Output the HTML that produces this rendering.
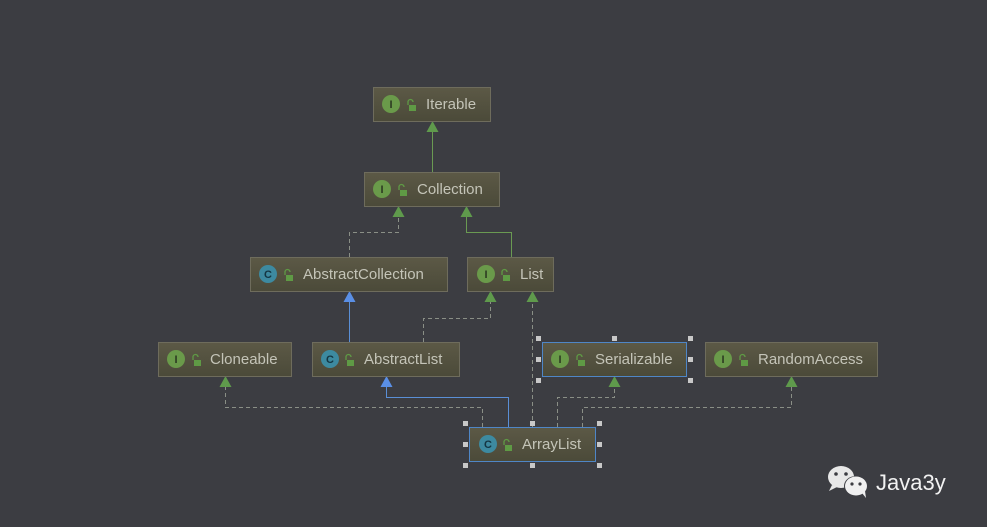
<!DOCTYPE html>
<html><head><meta charset="utf-8"><style>
html,body{margin:0;padding:0;background:#3c3d42;}
svg{display:block}
text{font-family:"Liberation Sans","DejaVu Sans",sans-serif;}
</style></head><body>
<svg width="987" height="527" viewBox="0 0 987 527" xmlns="http://www.w3.org/2000/svg">
<defs>
<linearGradient id="bg" x1="0" y1="0" x2="0" y2="1">
<stop offset="0" stop-color="#5c5946"/><stop offset="1" stop-color="#4b4a39"/>
</linearGradient>
<g id="ii"><circle r="9" fill="#6a9a4a"/><text x="0" y="4" font-size="11" font-weight="bold" fill="#2c3a22" text-anchor="middle">I</text></g>
<g id="ci"><circle r="9" fill="#3d8aa0"/><text x="0" y="4" font-size="11" font-weight="bold" fill="#143642" text-anchor="middle">C</text></g>
<g id="lk"><rect x="-3" y="-1" width="7" height="6" fill="#5f9a45"/><path d="M-4,-1 v-3 a2.5,2.5 0 0 1 5,0" fill="none" stroke="#5f9a45" stroke-width="1.3"/></g>
</defs>
<rect width="987" height="527" fill="#3c3d42"/>

<g fill="none" stroke-width="1">
<path d="M432.5,206 V126" stroke="#6a9a52"/>
<path d="M349.5,257 V232.5 H398.5 V211" stroke="#8a8f86" stroke-dasharray="4,3"/>
<path d="M511.5,257 V232.5 H466.5 V211" stroke="#6a9a52"/>
<path d="M349.5,342 V296" stroke="#5a8fd6"/>
<path d="M423.5,342 V318.5 H490.5 V296" stroke="#8a8f86" stroke-dasharray="4,3"/>
<path d="M532.5,427 V296" stroke="#8a8f86" stroke-dasharray="4,3"/>
<path d="M482.5,427 V407.5 H225.5 V381" stroke="#8a8f86" stroke-dasharray="4,3"/>
<path d="M508.5,427 V397.5 H386.5 V381" stroke="#5a8fd6"/>
<path d="M557.5,427 V397.5 H614.5 V381" stroke="#8a8f86" stroke-dasharray="4,3"/>
<path d="M582.5,427 V407.5 H791.5 V381" stroke="#8a8f86" stroke-dasharray="4,3"/>
</g>
<g fill="#5f9a4c">
<path d="M432.5,121 l-6,11 h12z"/>
<path d="M398.5,206 l-6,11 h12z"/>
<path d="M466.5,206 l-6,11 h12z"/>
<path d="M490.5,291 l-6,11 h12z"/>
<path d="M532.5,291 l-6,11 h12z"/>
<path d="M225.5,376 l-6,11 h12z"/>
<path d="M614.5,376 l-6,11 h12z"/>
<path d="M791.5,376 l-6,11 h12z"/>
</g>
<g fill="#5a8fe6">
<path d="M349.5,291 l-6,11 h12z"/>
<path d="M386.5,376 l-6,11 h12z"/>
</g>

<g stroke="#6e6c5c" stroke-width="1">
<rect x="373.5" y="87.5" width="117" height="34" fill="url(#bg)"/>
<rect x="364.5" y="172.5" width="135" height="34" fill="url(#bg)"/>
<rect x="250.5" y="257.5" width="197" height="34" fill="url(#bg)"/>
<rect x="467.5" y="257.5" width="86" height="34" fill="url(#bg)"/>
<rect x="158.5" y="342.5" width="133" height="34" fill="url(#bg)"/>
<rect x="312.5" y="342.5" width="147" height="34" fill="url(#bg)"/>
<rect x="542.5" y="342.5" width="144" height="34" fill="url(#bg)" stroke="#4f86c6"/>
<rect x="705.5" y="342.5" width="172" height="34" fill="url(#bg)"/>
<rect x="469.5" y="427.5" width="126" height="34" fill="url(#bg)" stroke="#4f86c6"/>
</g>

<g font-size="15" fill="#c4c4b8">
<use href="#ii" x="391" y="104"/><use href="#lk" x="412" y="106"/><text x="426" y="109">Iterable</text>
<use href="#ii" x="382" y="189"/><use href="#lk" x="403" y="191"/><text x="417" y="194">Collection</text>
<use href="#ci" x="268" y="274"/><use href="#lk" x="289" y="276"/><text x="303" y="279">AbstractCollection</text>
<use href="#ii" x="486" y="274"/><use href="#lk" x="506" y="276"/><text x="520" y="279">List</text>
<use href="#ii" x="176" y="359"/><use href="#lk" x="197" y="361"/><text x="210" y="364">Cloneable</text>
<use href="#ci" x="330" y="359"/><use href="#lk" x="350" y="361"/><text x="364" y="364">AbstractList</text>
<use href="#ii" x="560" y="359"/><use href="#lk" x="581" y="361"/><text x="595" y="364">Serializable</text>
<use href="#ii" x="723" y="359"/><use href="#lk" x="744" y="361"/><text x="758" y="364">RandomAccess</text>
<use href="#ci" x="488" y="444"/><use href="#lk" x="508" y="446"/><text x="522" y="449">ArrayList</text>
</g>

<g fill="#c8c8c8">
<rect x="536" y="336" width="5" height="5"/><rect x="612" y="336" width="5" height="5"/><rect x="688" y="336" width="5" height="5"/>
<rect x="536" y="357" width="5" height="5"/><rect x="688" y="357" width="5" height="5"/>
<rect x="536" y="378" width="5" height="5"/><rect x="688" y="378" width="5" height="5"/>
<rect x="463" y="421" width="5" height="5"/><rect x="530" y="421" width="5" height="5"/><rect x="597" y="421" width="5" height="5"/>
<rect x="463" y="442" width="5" height="5"/><rect x="597" y="442" width="5" height="5"/>
<rect x="463" y="463" width="5" height="5"/><rect x="530" y="463" width="5" height="5"/><rect x="597" y="463" width="5" height="5"/>
</g>

<g>
<ellipse cx="841" cy="477" rx="13" ry="11" fill="#e8e8e8"/>
<path d="M832,485 l-3,6 l8,-4z" fill="#e8e8e8"/>
<circle cx="836" cy="474" r="1.8" fill="#3c3d42"/><circle cx="846" cy="474" r="1.8" fill="#3c3d42"/>
<ellipse cx="856" cy="486" rx="12" ry="10" fill="#3c3d42"/>
<ellipse cx="856" cy="486" rx="11" ry="9.5" fill="#f0f0f0"/>
<path d="M862,493 l4,5 l-1,-7z" fill="#f0f0f0"/>
<circle cx="852" cy="484" r="1.6" fill="#3c3d42"/><circle cx="860" cy="484" r="1.6" fill="#3c3d42"/>
<text x="876" y="490" font-size="22" fill="#f2f2f2">Java3y</text>
</g>
</svg>
</body></html>
